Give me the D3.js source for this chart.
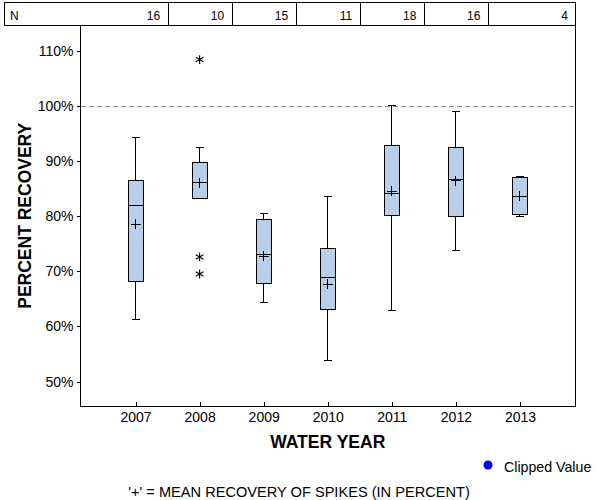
<!DOCTYPE html>
<html>
<head>
<meta charset="utf-8">
<script src="https://cdn.jsdelivr.net/npm/d3@7"></script>
<style>
  html, body { margin: 0; padding: 0; background: #fff; }
  svg { display: block; }
  text { font-family: "Liberation Sans", Arial, sans-serif; fill: #000; }
</style>
</head>
<body>
<svg id="chart" width="600" height="500"></svg>
<script>
// ---- data ----
const years        = ["2007", "2008", "2009", "2010", "2011", "2012", "2013"];
const nValues      = [16, 10, 15, 11, 18, 16, 4];
const whiskerLow   = [61.2, 83.2, 64.4, 53.8, 62.8, 73.8, 80.0];
const q1Values     = [68.2, 83.2, 67.7, 63.1, 80.1, 80.0, 80.3];
const medianValues = [82.0, 86.1, 73.0, 68.9, 84.1, 86.6, 83.6];
const q3Values     = [86.5, 89.7, 79.4, 74.2, 92.8, 92.4, 87.0];
const whiskerHigh  = [94.2, 92.4, 80.5, 83.6, 100.0, 99.0, 87.1];
const meanValues   = [78.5, 86.1, 72.7, 67.6, 84.5, 86.4, 83.6];
const outlierYears  = ["2008", "2008", "2008"];
const outlierValues = [108.4, 72.6, 69.5];
const yTickValues  = [50, 60, 70, 80, 90, 100, 110];
const referenceValue = 100;

// ---- layout ----
const svg = d3.select("#chart");
const plot = { left: 80, right: 575.5, top: 25.5, bottom: 406 };

const x = d3.scalePoint().domain(years).range([plot.left, plot.right]).padding(0.867);
const y = d3.scaleLinear().domain([45.56, 114.58]).range([plot.bottom, plot.top]);
const step = x.step();

const boxes = years.map((yr, i) => ({
  year: yr, n: nValues[i], lo: whiskerLow[i], q1: q1Values[i], med: medianValues[i],
  q3: q3Values[i], hi: whiskerHigh[i], mean: meanValues[i]
}));

// N table
const table = svg.append("g").attr("shape-rendering", "crispEdges");
table.append("rect")
  .attr("x", 4.5).attr("y", 2.5)
  .attr("width", plot.right - 4.5).attr("height", plot.top - 2.5)
  .attr("fill", "none").attr("stroke", "#000");
table.selectAll("line.div").data(years.slice(0, -1)).join("line")
  .attr("x1", d => Math.round(x(d) + step / 2) + 0.5)
  .attr("x2", d => Math.round(x(d) + step / 2) + 0.5)
  .attr("y1", 2.5).attr("y2", plot.top)
  .attr("stroke", "#000");
table.append("text").attr("x", 10).attr("y", 19.5)
  .style("font-size", "12px").text("N");
table.selectAll("text.n").data(boxes).join("text")
  .attr("class", "n")
  .attr("x", (d, i) => (i === years.length - 1 ? plot.right : x(d.year) + step / 2) - 7.5)
  .attr("y", 19.5).attr("text-anchor", "end")
  .style("font-size", "12px").text(d => d.n);

// Plot frame
svg.append("rect")
  .attr("x", plot.left + 0.5).attr("y", plot.top)
  .attr("width", plot.right - plot.left - 0.5).attr("height", plot.bottom - plot.top)
  .attr("fill", "none").attr("stroke", "#000").attr("shape-rendering", "crispEdges");

// Reference line at 100%
svg.append("line")
  .attr("x1", plot.left + 1).attr("x2", plot.right - 1)
  .attr("y1", Math.round(y(referenceValue)) + 0.5).attr("y2", Math.round(y(referenceValue)) + 0.5)
  .attr("stroke", "#888").attr("stroke-dasharray", "5,3");

// Y axis
const yAxis = svg.append("g")
  .attr("transform", `translate(${plot.left + 0.5},0)`)
  .call(d3.axisLeft(y).tickValues(yTickValues).tickFormat(d => d + "%").tickSize(4).tickPadding(3));
yAxis.select(".domain").remove();
yAxis.selectAll("text").style("font-size", "14px").style("font-family", "Liberation Sans, Arial, sans-serif").attr("fill", "#000");
yAxis.selectAll("line").attr("stroke", "#000").attr("shape-rendering", "crispEdges");

// X axis (ticks inward)
const xAxis = svg.append("g")
  .attr("transform", `translate(0,${plot.bottom})`)
  .call(d3.axisBottom(x).tickSize(-4).tickPadding(6));
xAxis.select(".domain").remove();
xAxis.selectAll("text").style("font-size", "14px").style("font-family", "Liberation Sans, Arial, sans-serif").attr("fill", "#000");
xAxis.selectAll("line").attr("stroke", "#000").attr("shape-rendering", "crispEdges");

// Boxes
const bw = 15, capW = 8, plusW = 10;
const g = svg.append("g").attr("shape-rendering", "crispEdges").attr("stroke", "#000").attr("stroke-width", 1);
const bg = g.selectAll("g.box").data(boxes).join("g").attr("class", "box");
// whiskers
bg.append("line")
  .attr("x1", d => x(d.year)).attr("x2", d => x(d.year))
  .attr("y1", d => y(d.hi)).attr("y2", d => y(d.q3));
bg.append("line")
  .attr("x1", d => x(d.year)).attr("x2", d => x(d.year))
  .attr("y1", d => y(d.q1)).attr("y2", d => y(d.lo));
bg.append("line")
  .attr("x1", d => x(d.year) - capW / 2).attr("x2", d => x(d.year) + capW / 2)
  .attr("y1", d => y(d.hi)).attr("y2", d => y(d.hi));
bg.append("line")
  .attr("x1", d => x(d.year) - capW / 2).attr("x2", d => x(d.year) + capW / 2)
  .attr("y1", d => y(d.lo)).attr("y2", d => y(d.lo));
// box
bg.append("rect")
  .attr("x", d => x(d.year) - bw / 2).attr("width", bw)
  .attr("y", d => y(d.q3)).attr("height", d => y(d.q1) - y(d.q3))
  .attr("fill", "#b9cfe7");
// median
bg.append("line")
  .attr("x1", d => x(d.year) - bw / 2).attr("x2", d => x(d.year) + bw / 2)
  .attr("y1", d => y(d.med)).attr("y2", d => y(d.med));
// mean plus
bg.append("line")
  .attr("x1", d => x(d.year) - plusW / 2).attr("x2", d => x(d.year) + plusW / 2)
  .attr("y1", d => y(d.mean)).attr("y2", d => y(d.mean));
bg.append("line")
  .attr("x1", d => x(d.year)).attr("x2", d => x(d.year))
  .attr("y1", d => y(d.mean) - plusW / 2).attr("y2", d => y(d.mean) + plusW / 2);

// Outliers (asterisks)
const outliers = outlierYears.map((yr, i) => ({ year: yr, v: outlierValues[i] }));
svg.selectAll("path.out").data(outliers).join("path")
  .attr("class", "out")
  .attr("transform", d => `translate(${x(d.year)},${y(d.v)})`)
  .attr("d", d3.symbol(d3.symbolAsterisk, 55))
  .attr("fill", "none").attr("stroke", "#000").attr("stroke-width", 1.1);

// Axis titles
svg.append("text")
  .attr("x", (plot.left + plot.right) / 2).attr("y", 448)
  .attr("text-anchor", "middle")
  .style("font-size", "17.5px").style("font-weight", "bold")
  .text("WATER YEAR");
svg.append("text")
  .attr("transform", `translate(31,${(plot.top + plot.bottom) / 2}) rotate(-90)`)
  .attr("text-anchor", "middle")
  .style("font-size", "17.5px").style("font-weight", "bold")
  .text("PERCENT RECOVERY");

// Legend
svg.append("circle").attr("cx", 488).attr("cy", 465).attr("r", 4.5).attr("fill", "#0000ff");
svg.append("text").attr("x", 504).attr("y", 472).style("font-size", "14.2px").text("Clipped Value");

// Footnote
svg.append("text").attr("x", 299).attr("y", 497).attr("text-anchor", "middle")
  .style("font-size", "14.6px").text("'+' = MEAN RECOVERY OF SPIKES (IN PERCENT)");
</script>
</body>
</html>
